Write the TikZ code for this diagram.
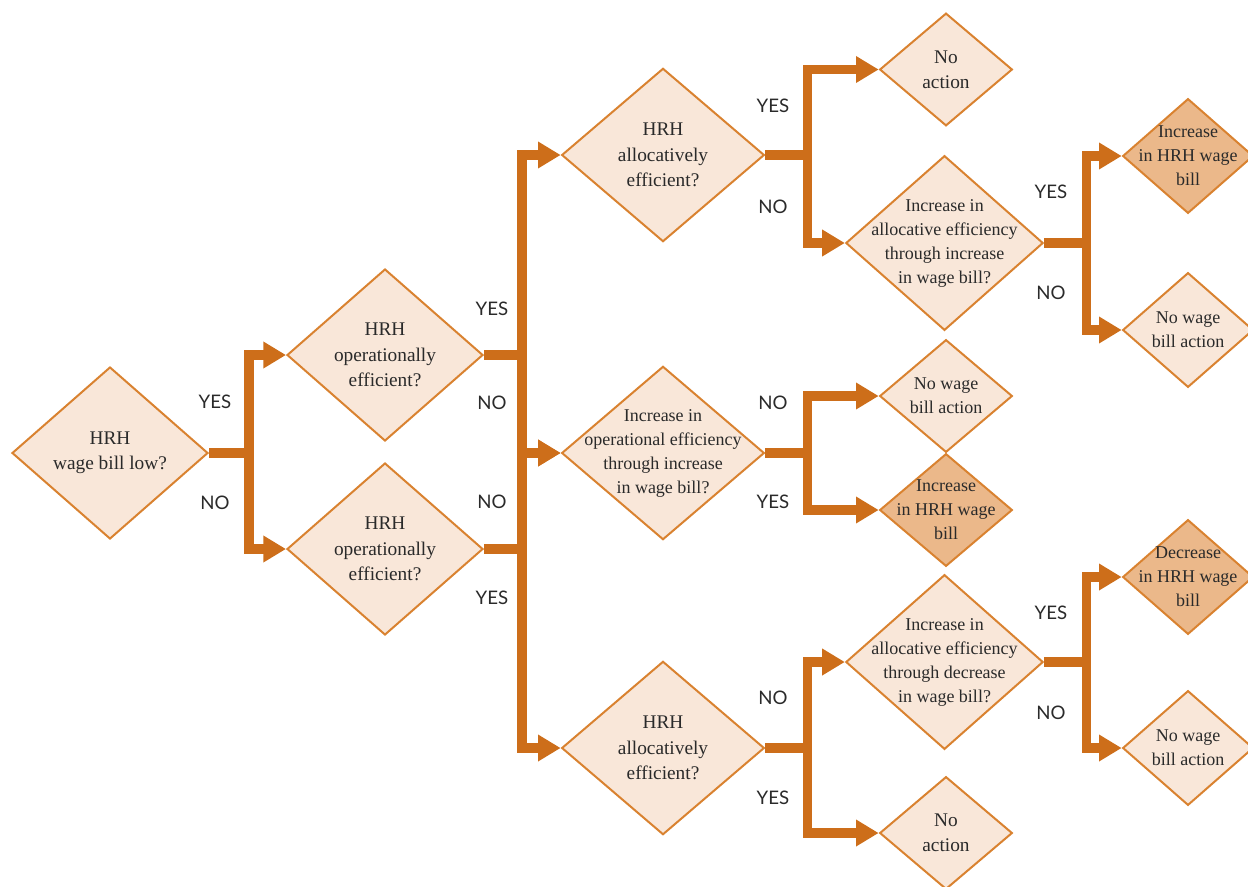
\documentclass[tikz,border=0pt]{standalone}
\usepackage{fontspec}
\setmainfont{Liberation Serif}
\newfontfamily\labfont{Lato}
\usetikzlibrary{shapes.geometric,arrows.meta}
\definecolor{fillL}{HTML}{F9E7D9}
\definecolor{fillD}{HTML}{EBB88A}
\definecolor{bord}{HTML}{D98230}
\definecolor{conn}{HTML}{CD6E1A}
\definecolor{ink}{HTML}{2A2A2A}
\begin{document}
\begin{tikzpicture}[x=0.75pt,y=-0.75pt,
  dia/.style={diamond, draw=bord, line width=1.5pt, fill=fillL, inner sep=0pt},
  bigA/.style={dia, minimum width=147pt, minimum height=129pt},
  bigB/.style={dia, minimum width=152pt, minimum height=130pt},
  bigC/.style={dia, minimum width=148pt, minimum height=131pt},
  smalldia/.style={dia, minimum width=99.5pt, minimum height=84.5pt},
  rdia/.style={dia, minimum width=98pt, minimum height=86pt},
  darkdia/.style={fill=fillD},
  qtxt/.style={text=ink, align=center, font=\fontsize{14.5pt}{19pt}\selectfont, inner sep=0pt},
  mtxt/.style={text=ink, align=center, font=\fontsize{13.5pt}{18pt}\selectfont, inner sep=0pt},
  lab/.style={text=ink, font=\labfont\fontsize{14pt}{16pt}\selectfont, inner sep=0pt},
  arr/.style={draw=conn, line width=7pt, line join=miter, -{Triangle[length=17pt,width=19pt]}},
]
\useasboundingbox (0,0) rectangle (1248,886);

% diamonds
\node[bigA] (d1) at (110,453) {};
\node[bigA] (d2) at (385,355) {};
\node[bigA] (d3) at (385,549) {};
\node[bigB] (d4) at (663,155) {};
\node[bigB] (d5) at (663,453) {};
\node[bigB] (d6) at (663,748) {};
\node[smalldia] (d7) at (946,69.5) {};
\node[bigC] (d8) at (944.5,243) {};
\node[smalldia] (d9) at (946,396) {};
\node[smalldia,darkdia] (d10) at (946,510) {};
\node[bigC] (d11) at (944.5,662) {};
\node[smalldia] (d12) at (946,833) {};
\node[rdia,darkdia] (d13) at (1188,156) {};
\node[rdia] (d14) at (1188,330) {};
\node[rdia,darkdia] (d15) at (1188,577) {};
\node[rdia] (d16) at (1188,748) {};

% texts
\node[qtxt] (t1) at (d1) {HRH\\wage bill low?};
\node[qtxt] (t2) at (d2) {HRH\\operationally\\efficient?};
\node[qtxt] (t3) at (d3) {HRH\\operationally\\efficient?};
\node[qtxt] (t4) at (d4) {HRH\\allocatively\\efficient?};
\node[mtxt] (t5) at (d5) {Increase in\\operational efficiency\\through increase\\in wage bill?};
\node[qtxt] (t6) at (d6) {HRH\\allocatively\\efficient?};
\node[qtxt] (t7) at (d7) {No\\action};
\node[mtxt] (t8) at (d8) {Increase in\\allocative efficiency\\through increase\\in wage bill?};
\node[mtxt] (t9) at (d9) {No wage\\bill action};
\node[mtxt] (t10) at (d10) {Increase\\in HRH wage\\bill};
\node[mtxt] (t11) at (d11) {Increase in\\allocative efficiency\\through decrease\\in wage bill?};
\node[qtxt] (t12) at (d12) {No\\action};
\node[mtxt] (t13) at (d13) {Increase\\in HRH wage\\bill};
\node[mtxt] (t14) at (d14) {No wage\\bill action};
\node[mtxt] (t15) at (d15) {Decrease\\in HRH wage\\bill};
\node[mtxt] (t16) at (d16) {No wage\\bill action};

% connectors
\draw[arr] (d1.east) -- ++(40,0) |- (d2.west);
\draw[arr] (d1.east) -- ++(40,0) |- (d3.west);
\draw[arr] (d2.east) -- ++(38,0) |- (d4.west);
\draw[arr] (d2.east) -- ++(38,0) |- (d5.west);
\draw[arr] (d3.east) -- ++(38,0) |- (d5.west);
\draw[arr] (d3.east) -- ++(38,0) |- (d6.west);
\draw[arr] (d4.east) -- ++(42,0) |- (d7.west);
\draw[arr] (d4.east) -- ++(42,0) |- (d8.west);
\draw[arr] (d5.east) -- ++(42,0) |- (d9.west);
\draw[arr] (d5.east) -- ++(42,0) |- (d10.west);
\draw[arr] (d6.east) -- ++(42,0) |- (d11.west);
\draw[arr] (d6.east) -- ++(42,0) |- (d12.west);
\draw[arr] (d8.east) -- ++(42,0) |- (d13.west);
\draw[arr] (d8.east) -- ++(42,0) |- (d14.west);
\draw[arr] (d11.east) -- ++(42,0) |- (d15.west);
\draw[arr] (d11.east) -- ++(42,0) |- (d16.west);

% labels
\node[lab] (y1) at (215,402) {YES};
\node[lab] (n1) at (215,503) {NO};
\node[lab] (y2) at (492,309) {YES};
\node[lab] (n2) at (492,403) {NO};
\node[lab] (n3) at (492,502) {NO};
\node[lab] (y3) at (492,598) {YES};
\node[lab] (y4) at (773,106) {YES};
\node[lab] (n4) at (773,207) {NO};
\node[lab] (n5) at (773,403) {NO};
\node[lab] (y5) at (773,502) {YES};
\node[lab] (n6) at (773,698) {NO};
\node[lab] (y6) at (773,798) {YES};
\node[lab] (y8) at (1051,192) {YES};
\node[lab] (n8) at (1051,293) {NO};
\node[lab] (y11) at (1051,613) {YES};
\node[lab] (n11) at (1051,713) {NO};
\end{tikzpicture}
\end{document}
